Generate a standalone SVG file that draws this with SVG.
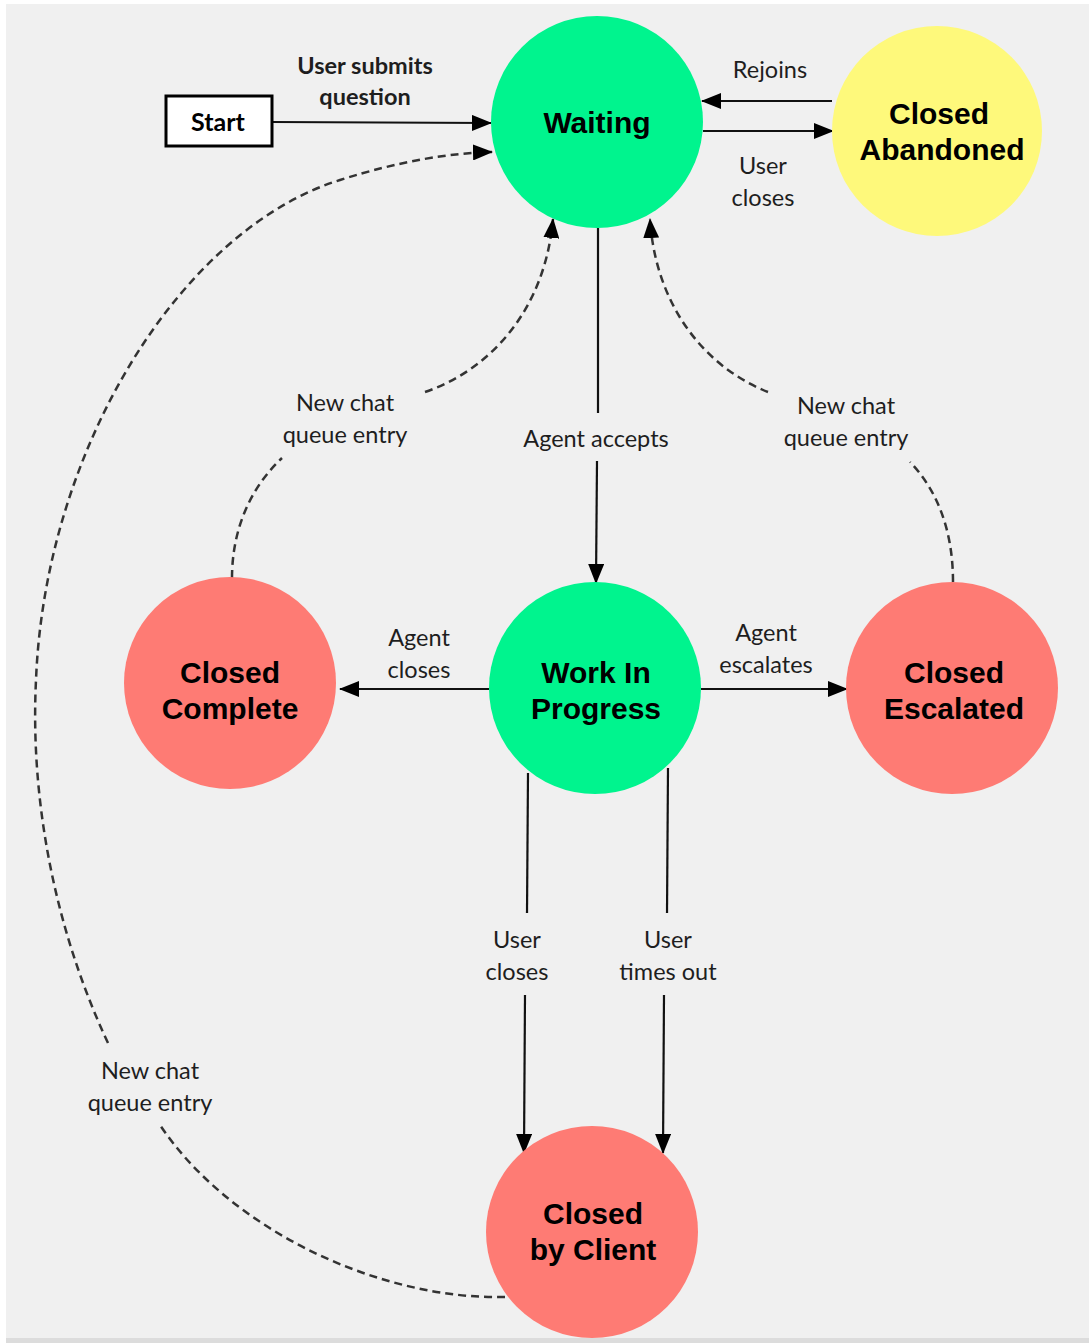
<svg xmlns="http://www.w3.org/2000/svg" width="1089" height="1343" viewBox="0 0 1089 1343">
<defs>
<marker id="arr" viewBox="0 0 20 16" markerWidth="20" markerHeight="16" refX="19" refY="8" orient="auto" markerUnits="userSpaceOnUse">
<path d="M0,0 L20,8 L0,16 z" fill="#000"/>
</marker>
<style>
.node text{font-family:"Liberation Sans",Arial,sans-serif;font-weight:bold;font-size:30px;fill:#000;text-anchor:middle}
.green{fill:#00f48e}
.red{fill:#fe7b74}
.yellow{fill:#fef97b}
.solid{fill:none;stroke:#111;stroke-width:2.2}
.dash{fill:none;stroke:#333;stroke-width:2.5;stroke-dasharray:8 5}
.lbl{font-family:Lato,"Open Sans",sans-serif;font-size:23.5px;fill:#1e1e1e;text-anchor:middle}
.bold{font-weight:bold}
</style>
</defs>
<rect x="0" y="0" width="1089" height="1343" fill="#ffffff"/>
<rect x="6" y="4" width="1083" height="1334" fill="#f0f0f0"/>
<rect x="6" y="1338" width="1083" height="5" fill="#dcdcdc"/>

<g id="connectors">
<path class="solid" d="M273,122 L491,123" marker-end="url(#arr)"/>
<path class="solid" d="M832,101 L702,101" marker-end="url(#arr)"/>
<path class="solid" d="M703,131 L833,131" marker-end="url(#arr)"/>
<path class="solid" d="M598,228 L598,413"/>
<path class="solid" d="M597,461 L596,583" marker-end="url(#arr)"/>
<path class="solid" d="M489,689 L340,689" marker-end="url(#arr)"/>
<path class="solid" d="M701,689 L847,689" marker-end="url(#arr)"/>
<path class="solid" d="M528,773 L527,913"/>
<path class="solid" d="M525,995 L524,1153" marker-end="url(#arr)"/>
<path class="solid" d="M668,768 L667,913"/>
<path class="solid" d="M664,995 L663,1153" marker-end="url(#arr)"/>
<path class="dash" d="M232,578 C232,530 250,488 282,458"/>
<path class="dash" d="M425,392 C490,370 545,310 553,219" marker-end="url(#arr)"/>
<path class="dash" d="M953,582 C953,530 937,490 910,462"/>
<path class="dash" d="M768,392 C700,365 655,300 650,219" marker-end="url(#arr)"/>
<path class="dash" d="M505,1297 C380,1300 230,1230 160,1125"/>
<path class="dash" d="M108,1043 C55,930 30,800 36,680 C45,450 180,230 340,180 C400,161 450,153 492,152" marker-end="url(#arr)"/>
</g>

<g id="labels">
<text class="lbl bold" x="365" y="74">User submits</text>
<text class="lbl bold" x="365" y="105">question</text>
<text class="lbl" x="770" y="78">Rejoins</text>
<text class="lbl" x="763" y="174">User</text>
<text class="lbl" x="763" y="206">closes</text>
<text class="lbl" x="345" y="411">New chat</text>
<text class="lbl" x="345" y="443">queue entry</text>
<text class="lbl" x="596" y="447">Agent accepts</text>
<text class="lbl" x="846" y="414">New chat</text>
<text class="lbl" x="846" y="446">queue entry</text>
<text class="lbl" x="419" y="646">Agent</text>
<text class="lbl" x="419" y="678">closes</text>
<text class="lbl" x="766" y="641">Agent</text>
<text class="lbl" x="766" y="673">escalates</text>
<text class="lbl" x="517" y="948">User</text>
<text class="lbl" x="517" y="980">closes</text>
<text class="lbl" x="668" y="948">User</text>
<text class="lbl" x="668" y="980">times out</text>
<text class="lbl" x="150" y="1079">New chat</text>
<text class="lbl" x="150" y="1111">queue entry</text>
</g>

<g id="start">
<rect x="166" y="96" width="106" height="50" fill="#fff" stroke="#000" stroke-width="3"/>
<text class="lbl bold" x="218" y="131" style="font-size:25px;fill:#000">Start</text>
</g>
<g id="waiting" class="node">
<circle class="green" cx="597" cy="122" r="106"/>
<text x="597" y="133">Waiting</text>
</g>
<g id="closed-abandoned" class="node">
<circle class="yellow" cx="937" cy="131" r="105"/>
<text x="939" y="124">Closed</text>
<text x="942" y="160">Abandoned</text>
</g>
<g id="closed-complete" class="node">
<circle class="red" cx="230" cy="683" r="106"/>
<text x="230" y="683">Closed</text>
<text x="230" y="719">Complete</text>
</g>
<g id="work-in-progress" class="node">
<circle class="green" cx="595" cy="688" r="106"/>
<text x="596" y="683">Work In</text>
<text x="596" y="719">Progress</text>
</g>
<g id="closed-escalated" class="node">
<circle class="red" cx="952" cy="688" r="106"/>
<text x="954" y="683">Closed</text>
<text x="954" y="719">Escalated</text>
</g>
<g id="closed-by-client" class="node">
<circle class="red" cx="592" cy="1232" r="106"/>
<text x="593" y="1224">Closed</text>
<text x="593" y="1260">by Client</text>
</g>
</svg>
